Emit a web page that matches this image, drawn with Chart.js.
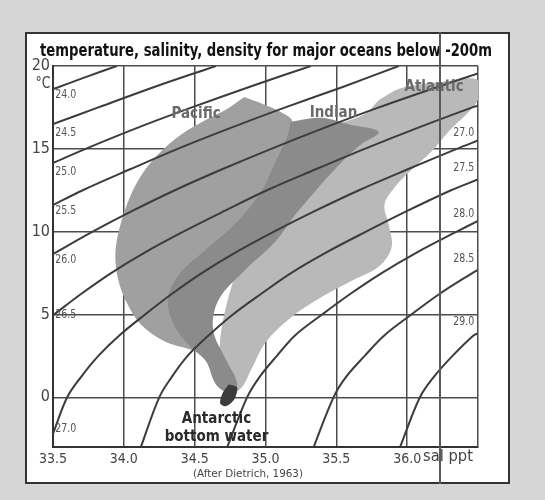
<!DOCTYPE html>
<html>
<head>
<meta charset="utf-8">
<script src="https://cdn.jsdelivr.net/npm/chart.js@4.4.1/dist/chart.umd.min.js"></script>
<style>
  html, body { margin:0; padding:0; }
  body { width:545px; height:500px; background:#d6d6d6; position:relative; overflow:hidden; }
  #panel { position:absolute; left:25px; top:32px; width:481px; height:448px; background:#fff; border:2px solid #333; }
  #seam { position:absolute; left:439px; top:32px; width:2px; height:452px; background:#5a5a5a; }
  #wrap { position:absolute; left:0; top:0; width:545px; height:500px; }
</style>
</head>
<body>
<div id="panel"></div>
<div id="wrap"><canvas id="c" width="545" height="500"></canvas></div>
<div id="seam"></div>
<script>
// ---- axis ticks ----
const salinityTicks = [33.5, 34.0, 34.5, 35.0, 35.5, 36.0, 36.5];
const salinityLabels = ['33.5', '34.0', '34.5', '35.0', '35.5', '36.0', ''];
const temperatureTicks = [0, 5, 10, 15, 20];
const temperatureLabels = ['0', '5', '10', '15', '20'];

// ---- density (sigma-t) lines: [salinity, temperature] ----
const sigma240 = [[33.50,18.6],[33.72,19.3],[33.95,20.0]];
const sigma245 = [[33.50,16.5],[33.82,17.5],[34.22,18.75],[34.65,20.0]];
const sigma250 = [[33.50,14.15],[33.73,15.0],[34.09,16.25],[34.48,17.5],[34.89,18.75],[35.32,20.0]];
const sigma255 = [[33.50,11.6],[33.71,12.5],[34.04,13.75],[34.38,15.0],[34.75,16.25],[35.14,17.5],[35.55,18.75],[35.94,20.0]];
const sigma260 = [[33.50,8.65],[33.78,10.0],[34.06,11.25],[34.36,12.5],[34.69,13.75],[35.04,15.0],[35.41,16.25],[35.80,17.5],[36.22,18.75],[36.50,19.55]];
const sigma265 = [[33.50,4.95],[33.70,6.25],[33.91,7.5],[34.15,8.75],[34.42,10.0],[34.71,11.25],[35.01,12.5],[35.35,13.75],[35.70,15.0],[36.07,16.25],[36.46,17.5],[36.50,17.6]];
const sigma270 = [[33.50,-2.2],[33.60,0.0],[33.70,1.25],[33.82,2.5],[33.97,3.75],[34.15,5.0],[34.34,6.25],[34.55,7.5],[34.79,8.75],[35.06,10.0],[35.35,11.25],[35.66,12.5],[36.00,13.75],[36.35,15.0],[36.50,15.5]];
const sigma275 = [[34.12,-3.0],[34.25,0.0],[34.34,1.25],[34.45,2.5],[34.60,3.75],[34.77,5.0],[34.97,6.25],[35.18,7.5],[35.43,8.75],[35.71,10.0],[36.00,11.25],[36.31,12.5],[36.50,13.15]];
const sigma280 = [[34.73,-3.0],[34.87,0.0],[34.96,1.25],[35.08,2.5],[35.21,3.75],[35.40,5.0],[35.60,6.25],[35.82,7.5],[36.07,8.75],[36.35,10.0],[36.50,10.65]];
const sigma285 = [[35.34,-3.0],[35.48,0.0],[35.57,1.25],[35.70,2.5],[35.84,3.75],[36.03,5.0],[36.23,6.25],[36.46,7.5],[36.50,7.7]];
const sigma290 = [[35.95,-3.0],[36.09,0.0],[36.19,1.25],[36.32,2.5],[36.47,3.75],[36.50,3.85]];

// ---- density labels: [text, salinity, temperature] ----
const densityLabelsLeft = [['24.0',33.59,18.25],['24.5',33.59,15.96],['25.0',33.59,13.61],['25.5',33.59,11.27],['26.0',33.59,8.31],['26.5',33.59,5.0],['27.0',33.59,-1.93]];
const densityLabelsRight = [['27.0',36.40,15.96],['27.5',36.40,13.86],['28.0',36.40,11.08],['28.5',36.40,8.37],['29.0',36.40,4.58]];

// ---- ocean water-mass regions: [salinity, temperature] outlines ----
const pacific = [[34.85,18.13],[34.98,17.71],[35.12,17.17],[35.19,16.63],[35.11,14.34],[34.97,11.93],[34.82,9.52],[34.61,7.11],[34.51,4.70],[34.58,2.59],[34.70,0.78],
  [34.67,1.69],[34.59,2.47],[34.47,2.89],[34.29,3.37],[34.12,4.40],[34.02,5.72],[33.96,7.11],[33.94,8.61],[33.97,10.24],[34.05,12.23],[34.15,13.73],[34.26,14.82],[34.40,15.84],[34.58,16.75],[34.74,17.47]];
const indian = [[35.18,16.63],[35.39,16.87],[35.60,16.45],[35.80,16.02],[35.67,15.24],[35.50,13.86],[35.36,12.53],[35.21,11.02],[35.07,9.40],[34.86,7.71],[34.67,5.90],[34.63,4.10],[34.72,2.29],[34.80,0.78],[34.74,0.30],
  [34.65,0.78],[34.58,2.17],[34.47,3.07],[34.36,4.28],[34.31,5.90],[34.39,7.41],[34.58,8.92],[34.80,10.60],[34.97,12.41],[35.07,14.22],[35.15,15.66]];
const atlantic = [[35.80,17.95],[35.96,18.67],[36.24,19.04],[36.50,19.16],[36.50,17.95],[36.29,16.02],[36.17,14.82],[36.03,13.73],[35.91,12.65],[35.84,11.63],[35.87,10.42],[35.89,9.04],[35.80,7.89],[35.60,6.99],[35.39,6.02],[35.18,4.82],[35.00,3.31],[34.90,1.69],[34.82,0.48],[34.72,0.36],
  [34.68,3.49],[34.82,8.31],[35.11,14.94],[35.45,16.30],[35.70,17.10]];
const antarcticBottom = [[34.74,0.78],[34.80,0.60],[34.78,-0.12],[34.72,-0.54],[34.68,-0.36],[34.70,0.30]];

// ---- text labels: [text, salinity, temperature] ----
const oceanLabels = [['Pacific',34.51,17.11],['Indian',35.48,17.17],['Atlantic',36.19,18.73]];
const bottomLabels = [['Antarctic',34.654,-1.33],['bottom water',34.654,-2.41]];

const NARROW = "'DejaVu Sans Condensed', 'Liberation Sans', sans-serif";

function pts(a) { return a.map(p => ({x: p[0], y: p[1]})); }
function closed(a) { return pts(a.concat([a[0]])); }

const lines = [sigma240, sigma245, sigma250, sigma255, sigma260, sigma265, sigma270, sigma275, sigma280, sigma285, sigma290];
const datasets = [];
lines.forEach((l, i) => datasets.push({
  label: 'sigma' + i, data: pts(l), showLine: true, pointRadius: 0,
  borderColor: '#3c3c3c', borderWidth: 2, tension: 0.35, fill: false, order: 0
}));
function region(name, arr, color, order, tension) {
  return { label: name, data: closed(arr), showLine: true, pointRadius: 0, borderWidth: 0,
    borderColor: color, backgroundColor: color, fill: 'shape', tension: tension, order: order };
}
datasets.push(region('Antarctic bottom water', antarcticBottom, '#3c3c3c', 1, 0.3));
datasets.push(region('Indian', indian, '#8b8b8b', 2, 0.35));
datasets.push(region('Pacific', pacific, '#a0a0a0', 3, 0.35));
datasets.push(region('Atlantic', atlantic, '#b9b9b9', 4, 0.35));

// draws text squeezed horizontally to a given width (narrow-face look)
function fitText(ctx, text, x, y, width) {
  const w = ctx.measureText(text).width;
  const sx = width ? width / w : 1;
  ctx.save();
  ctx.translate(x, y);
  ctx.scale(sx, 1);
  ctx.fillText(text, 0, 0);
  ctx.restore();
}

const textPlugin = {
  id: 'texts',
  afterDraw(chart) {
    const ctx = chart.ctx, xs = chart.scales.x, ys = chart.scales.y;
    ctx.save();
    ctx.textAlign = 'center'; ctx.textBaseline = 'middle';
    // title
    ctx.fillStyle = '#111';
    ctx.font = 'bold 18px ' + NARROW;
    fitText(ctx, 'temperature, salinity, density for major oceans below -200m', 266, 51, 452);
    // unit labels
    ctx.fillStyle = '#444';
    ctx.font = '15px ' + NARROW;
    fitText(ctx, '\u00B0C', 43, 84, 15);
    ctx.font = '15px ' + NARROW;
    fitText(ctx, 'sal ppt', 448, 457, 50);
    ctx.font = '10px ' + NARROW;
    fitText(ctx, '(After Dietrich, 1963)', 248, 474, 110);
    // density labels
    ctx.fillStyle = '#555';
    ctx.font = '12px ' + NARROW;
    densityLabelsLeft.concat(densityLabelsRight).forEach(d => {
      fitText(ctx, d[0], xs.getPixelForValue(d[1]), ys.getPixelForValue(d[2]), 21);
    });
    // ocean labels
    ctx.fillStyle = '#6a6a6a';
    ctx.font = 'bold 15px ' + NARROW;
    oceanLabels.forEach(d => ctx.fillText(d[0], xs.getPixelForValue(d[1]), ys.getPixelForValue(d[2])));
    ctx.fillStyle = '#2a2a2a';
    ctx.font = 'bold 15px ' + NARROW;
    bottomLabels.forEach(d => ctx.fillText(d[0], xs.getPixelForValue(d[1]), ys.getPixelForValue(d[2])));
    ctx.restore();
  }
};

new Chart(document.getElementById('c'), {
  type: 'scatter',
  data: { datasets: datasets },
  options: {
    responsive: false, animation: false, events: [],
    layout: { padding: { left: 0, top: 66, right: 67, bottom: 0 } },
    plugins: { legend: { display: false }, tooltip: { enabled: false }, title: { display: false } },
    scales: {
      x: {
        type: 'linear', min: 33.5, max: 36.5, z: 1,
        afterBuildTicks: s => { s.ticks = salinityTicks.map(v => ({ value: v })); },
        afterFit: s => { s.height = 53; },
        ticks: { padding: 4, color: '#444', font: { family: NARROW, size: 14 },
          callback: (v, i) => salinityLabels[i], maxRotation: 0, autoSkip: false },
        grid: { color: '#4d4d4d', lineWidth: 1.5, drawTicks: false },
        border: { color: '#333', width: 2 }
      },
      y: {
        type: 'linear', min: -3, max: 20, z: 1,
        afterBuildTicks: s => { s.ticks = temperatureTicks.map(v => ({ value: v })); },
        afterFit: s => { s.width = 53; },
        ticks: { padding: 3, color: '#444', font: { family: NARROW, size: 16 },
          callback: (v, i) => temperatureLabels[i], autoSkip: false },
        grid: { color: '#4d4d4d', lineWidth: 1.5, drawTicks: false },
        border: { color: '#333', width: 2 }
      }
    }
  },
  plugins: [textPlugin]
});
</script>
</body>
</html>
